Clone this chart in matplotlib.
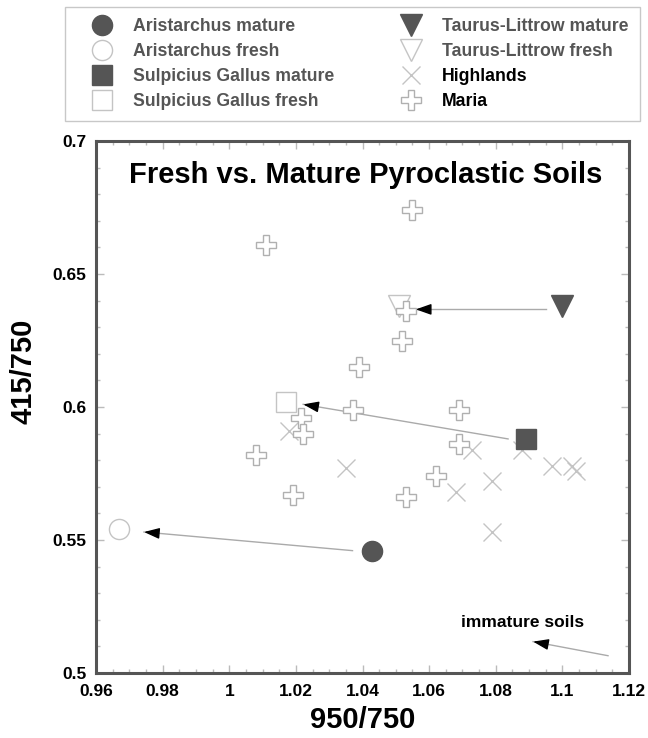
import matplotlib
matplotlib.use("Agg")
import matplotlib.pyplot as plt
from matplotlib.ticker import MultipleLocator

plt.rcParams['font.family'] = ['Liberation Sans', 'DejaVu Sans']
plt.rcParams['font.weight'] = 'bold'

# pyroclastic sites: (950/750, 415/750)
aristarchus_mature = (1.043, 0.546)
aristarchus_fresh = (0.967, 0.554)
sg_mature = (1.089, 0.588)
sg_fresh = (1.017, 0.602)
tl_mature = (1.100, 0.638)
tl_fresh = (1.051, 0.638)

highlands_x = [1.018, 1.035, 1.073, 1.068, 1.079, 1.079, 1.088, 1.097, 1.103, 1.104]
highlands_y = [0.591, 0.577, 0.584, 0.568, 0.572, 0.553, 0.584, 0.578, 0.578, 0.576]

maria_x = [1.055, 1.011, 1.053, 1.052, 1.039, 1.037, 1.0215, 1.022, 1.069, 1.069,
           1.008, 1.019, 1.053, 1.062]
maria_y = [0.674, 0.661, 0.636, 0.625, 0.615, 0.599, 0.596, 0.590, 0.599, 0.586,
           0.582, 0.567, 0.566, 0.574]

# arrows: (tail, tip)
arrows = [
    ((1.037, 0.546), (0.9744, 0.553)),
    ((1.0837, 0.588), (1.0222, 0.601)),
    ((1.0952, 0.6367), (1.056, 0.6367)),
    ((1.1137, 0.5065), (1.0912, 0.5118)),
]

DARK = '#555555'
LIGHT = '#c4c4c4'

fig = plt.figure(figsize=(6.48, 7.38), dpi=100)
ax = fig.add_axes([96 / 648, 65 / 738, 533 / 648, 532 / 738])

for (tx, ty), (hx, hy) in arrows:
    ax.plot([tx, hx], [ty, hy], color='#aaaaaa', lw=1, zorder=2)
    ax.annotate('', xy=(hx, hy), xytext=(hx + (tx - hx) * 0.05, hy + (ty - hy) * 0.05),
                arrowprops=dict(arrowstyle='-|>,head_length=0.85,head_width=0.3',
                                color='black', lw=1, mutation_scale=11,
                                shrinkA=0, shrinkB=0), zorder=6)

h1, = ax.plot(*aristarchus_mature, 'o', ms=14.5, color=DARK, mec=DARK, zorder=5,
              label='Aristarchus mature')
h2, = ax.plot(*aristarchus_fresh, 'o', ms=14.5, mfc='white', mec=LIGHT, mew=1, zorder=3,
              label='Aristarchus fresh')
h3, = ax.plot(*sg_mature, 's', ms=15, color=DARK, mec=DARK, zorder=5,
              label='Sulpicius Gallus mature')
h4, = ax.plot(*sg_fresh, 's', ms=15, mfc='white', mec=LIGHT, mew=1, zorder=3,
              label='Sulpicius Gallus fresh')
h5, = ax.plot(*tl_mature, 'v', ms=16, color=DARK, mec=DARK, zorder=5,
              label='Taurus-Littrow mature')
h6, = ax.plot(*tl_fresh, 'v', ms=16, mfc='white', mec=LIGHT, mew=1, zorder=3,
              label='Taurus-Littrow fresh')
h7, = ax.plot(highlands_x, highlands_y, 'x', ms=13, color=LIGHT, mew=1, ls='none',
              zorder=3, label='Highlands')
h8, = ax.plot(maria_x, maria_y, 'P', ms=15, mfc='white', mec='#b0b0b0', mew=1, ls='none',
              zorder=4, label='Maria')

ax.set_xlim(0.96, 1.12)
ax.set_ylim(0.5, 0.7)
ax.xaxis.set_major_locator(MultipleLocator(0.02))
ax.xaxis.set_minor_locator(MultipleLocator(0.005))
ax.yaxis.set_major_locator(MultipleLocator(0.05))
ax.yaxis.set_minor_locator(MultipleLocator(0.01))
fmt = plt.FuncFormatter(lambda v, p: ('%.2f' % v).rstrip('0').rstrip('.'))
ax.xaxis.set_major_formatter(fmt)
ax.yaxis.set_major_formatter(fmt)
ax.tick_params(which='both', direction='in', top=True, right=True, color='#bbbbbb',
               width=1, labelsize=12.5)
ax.tick_params(which='major', length=6)
ax.tick_params(which='minor', length=3)
ax.tick_params(axis='x', pad=8)
ax.tick_params(axis='y', pad=7)
for s in ax.spines.values():
    s.set_color(DARK)
    s.set_linewidth(2.2)

ax.set_xlabel('950/750', fontsize=21, fontweight='bold')
ax.set_ylabel('415/750', fontsize=21, fontweight='bold')
ax.xaxis.set_label_coords(0.5, -0.062)
ax.yaxis.set_label_coords(-0.109, 0.568)

ax.text(0.506, 0.9205, 'Fresh vs. Mature Pyroclastic Soils', transform=ax.transAxes,
        ha='center', va='baseline', fontsize=21, fontweight='bold')
ax.text(1.088, 0.5189, 'immature soils', ha='center', va='center', fontsize=12.5,
        fontweight='bold')

leg = fig.legend(handles=[h1, h2, h3, h4, h5, h6, h7, h8], ncol=2, loc='upper left',
                 bbox_to_anchor=(65 / 648, 1 - 7 / 738), borderaxespad=0,
                 prop={'size': 12.7, 'weight': 'bold'}, fancybox=False,
                 edgecolor='#c8c8c8', framealpha=1, borderpad=0.65, handlelength=2.87,
                 handletextpad=0.36, columnspacing=2.87, labelspacing=0.44, numpoints=1)
leg.get_frame().set_linewidth(1)
for t in leg.get_texts()[:6]:
    t.set_color('#555555')

fig.savefig('out.png', dpi=100)
